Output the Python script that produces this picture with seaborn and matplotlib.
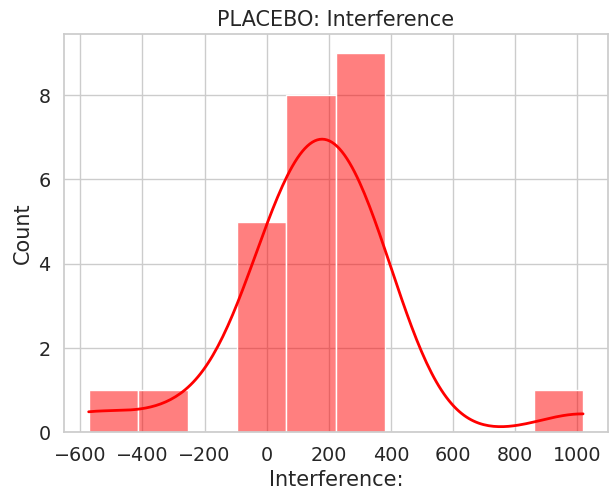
import matplotlib
matplotlib.use("Agg")
import matplotlib.pyplot as plt
import matplotlib.ticker as mticker
import seaborn as sns
import pandas as pd

# estimated interference values for the placebo group (25 subjects)
interference = [-573, -268,
                -60, -15, 20, 45, 60,
                65, 78, 98, 122, 146, 170, 195, 215,
                225, 245, 265, 285, 305, 325, 350, 370, 380,
                1018]
df = pd.DataFrame({'Interference:': interference})

sns.set_theme(style="whitegrid", font_scale=1.25)
fig, ax = plt.subplots(figsize=(6.09, 4.93), dpi=100)
fig.subplots_adjust(left=0.105, right=0.998, top=0.931, bottom=0.123)

sns.histplot(data=df, x='Interference:', bins=10, kde=True, color='red',
             line_kws={'linewidth': 2}, ax=ax)
ax.set_title('PLACEBO: Interference')
ax.xaxis.set_major_locator(mticker.MultipleLocator(200))

fig.savefig('out.png', dpi=100)
